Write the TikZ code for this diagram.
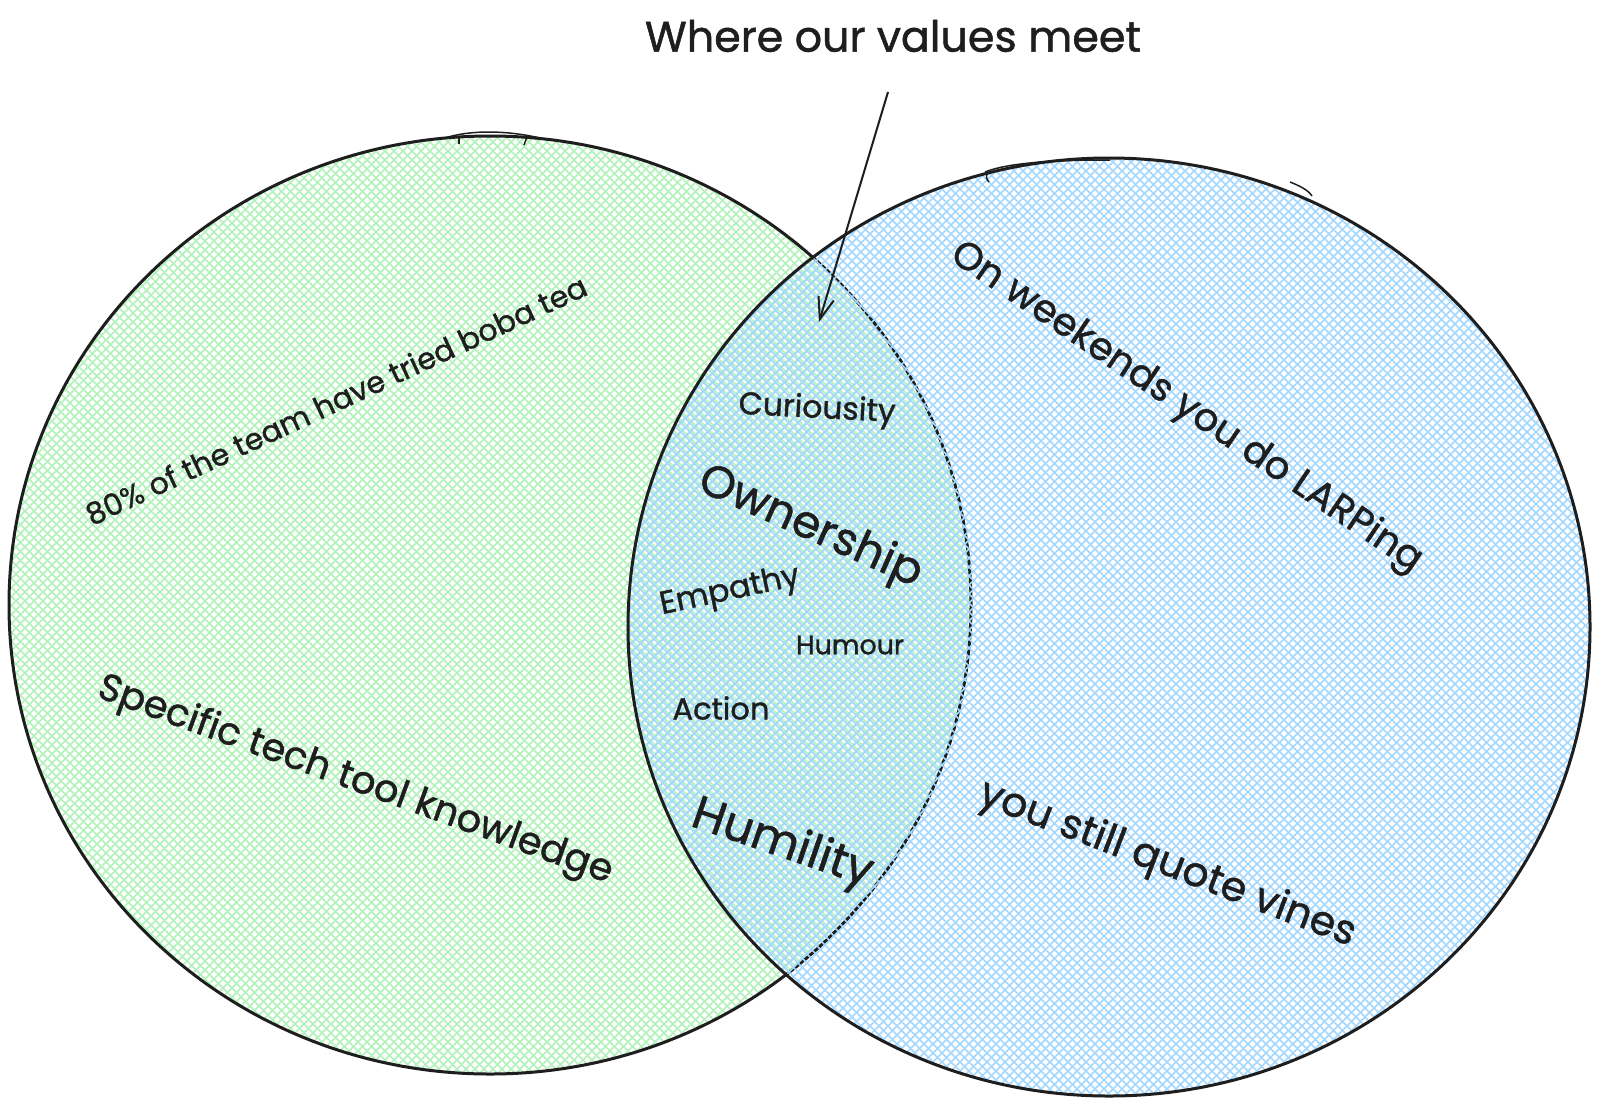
\documentclass[tikz,border=0pt]{standalone}
\usepackage{fontspec}
\setmainfont{Poppins}[FakeBold=1.2]
\usepackage{graphicx}
\usetikzlibrary{arrows.meta}
\definecolor{ink}{HTML}{1E1E1E}
\definecolor{hgreen}{HTML}{B2F2BB}
\definecolor{hblue}{HTML}{A5D8FF}
\newcommand{\fitw}[2]{\resizebox{#1pt}{!}{#2}}
\begin{document}
\begin{tikzpicture}[x=1pt,y=-1pt,
  outline/.style={draw=ink,line width=3pt},
  sketch/.style={draw=ink,line width=1.5pt},
  hatchg/.style={draw=hgreen,line width=1.7pt},
  hatchb/.style={draw=hblue,line width=1.7pt},
  lbl/.style={text=ink,inner sep=0pt,font=\fontsize{20}{24}\selectfont}]
\useasboundingbox (0,0) rectangle (1600,1106);
\fill[white] (0,0) rectangle (1600,1106);
% left circle
\begin{scope}
  \clip (490,605) ellipse [x radius=481, y radius=469];
  \foreach \c in {-1080,-1071,...,850}{\draw[hatchg] ({\c+120},120) -- ({\c+1090},1090);}
  \foreach \c in {140,149,...,2060}{\draw[hatchg] ({\c-120},120) -- ({\c-1090},1090);}
\end{scope}
\draw[outline] (490,605) ellipse [x radius=481, y radius=469];
\draw[sketch] (445,138) .. controls (470,130) and (505,130) .. (540,138);
\draw[sketch] (459,136) -- (459,144);
\draw[sketch] (527,137) -- (524,145);
% right circle
\begin{scope}
  \clip (1109,627) ellipse [x radius=481, y radius=469];
  \foreach \c in {-480,-471,...,1440}{\draw[hatchb] ({\c+150},150) -- ({\c+1100},1100);}
  \foreach \c in {780,789,...,2700}{\draw[hatchb] ({\c-150},150) -- ({\c-1100},1100);}
\end{scope}
\draw[outline] (1109,627) ellipse [x radius=481, y radius=469];
\draw[sketch] (985,172) .. controls (1010,162) and (1060,160) .. (1110,160);
\draw[sketch] (988,173) .. controls (985,176) and (987,180) .. (989,182);
\draw[sketch] (1290,182) .. controls (1300,186) and (1308,190) .. (1312,196);
% title and arrow
\node[lbl] (title) at (893,36) {\fitw{496}{Where our values meet}};
\coordinate (astart) at (888,92);
\coordinate (atip) at (819,322);
\draw[ink,line width=2pt,-{Straight Barb[length=22pt,width=16pt]}] (astart) -- (atip);
% left texts
\node[lbl,rotate=25] (boba) at (336,400) {\fitw{549}{80\% of the team have tried boba tea}};
\node[lbl,rotate=-20] (tech) at (355,781) {\fitw{545}{Specific tech tool knowledge}};
% right texts
\node[lbl,rotate=-34] (larp) at (1186,408) {\fitw{560}{On weekends you do LARPing}};
\node[lbl,rotate=-21] (vines) at (1167,865) {\fitw{400}{you still quote vines}};
% intersection values
\node[lbl,rotate=-3] (curio) at (817,410) {\fitw{157}{Curiousity}};
\node[lbl,rotate=-24] (owner) at (810,528) {\fitw{240}{Ownership}};
\node[lbl,rotate=12] (empathy) at (730,592) {\fitw{142}{Empathy}};
\node[lbl] (humour) at (850,645) {\fitw{108}{Humour}};
\node[lbl] (action) at (721,708) {\fitw{97}{Action}};
\node[lbl,rotate=-19] (humility) at (782,845) {\fitw{188}{Humility}};
\end{tikzpicture}
\end{document}
